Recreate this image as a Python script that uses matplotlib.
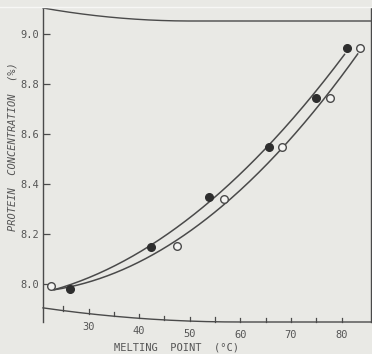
import numpy as np
import matplotlib.pyplot as plt

# filled circles
filled_melt = [26.4, 42.3, 53.9, 65.6, 74.9, 81.0]
filled_conc = [7.98, 8.148, 8.348, 8.548, 8.744, 8.944]
# open circles
open_melt = [22.5, 47.4, 56.7, 68.3, 77.8, 83.6]
open_conc = [7.99, 8.152, 8.34, 8.548, 8.744, 8.944]

# both drawn curves leave from the same point at the low end
curve_start = (23.2, 7.975)
filled_curve_end = 80.6
open_curve_end = 83.2

x_ticks = [30, 40, 50, 60, 70, 80]
x_minor = [25, 35, 45, 55, 65, 75]
y_ticks = [8.0, 8.2, 8.4, 8.6, 8.8, 9.0]

BG = "#e9e9e5"
INK = "#4a4a4a"
TXT = "#555555"
FONT = "DejaVu Sans Mono"


def anchored_fit(xs, ys, x_end):
    # quadratic through the shared start point, least squares for the rest
    x0, y0 = curve_start
    dx = np.asarray(xs) - x0
    dy = np.asarray(ys) - y0
    a = np.column_stack([dx, dx ** 2])
    coef, *_ = np.linalg.lstsq(a, dy, rcond=None)
    grid = np.linspace(x0, x_end, 200)
    g = grid - x0
    return grid, y0 + coef[0] * g + coef[1] * g ** 2


fig = plt.figure(figsize=(3.72, 3.54), dpi=100, facecolor=BG)
ax = fig.add_axes([43 / 372, 1 - 322 / 354, 328 / 372, 314 / 354])
ax.set_facecolor(BG)
ax.set_xlim(21.0, 85.83)
ax.set_ylim(7.846, 9.102)

for side in ["top", "bottom"]:
    ax.spines[side].set_visible(False)
for side in ["left", "right"]:
    ax.spines[side].set_color(INK)
    ax.spines[side].set_linewidth(1.0)


# warped scan: top and bottom edges bend near the left
def bottom_edge(u):
    u = np.asarray(u, dtype=float)
    return np.where(u < 0.6, 0.045 * (1 - u / 0.6) ** 2, 0.0)


def top_edge(u):
    u = np.asarray(u, dtype=float)
    return 1 - np.where(u < 0.45, 0.0414 * (1 - (1 - u / 0.45) ** 2), 0.0414)


uu = np.linspace(0, 1, 200)
ax.plot(uu, bottom_edge(uu), color=INK, lw=1.0, transform=ax.transAxes, clip_on=False)
ax.plot(uu, top_edge(uu), color=INK, lw=1.0, transform=ax.transAxes, clip_on=False)

# x ticks drawn on the bent bottom edge
x0, x1 = ax.get_xlim()
for v in x_ticks + x_minor:
    u = (v - x0) / (x1 - x0)
    yb = float(bottom_edge(u))
    ax.plot([u, u], [yb, yb + 0.014], color=INK, lw=0.9, transform=ax.transAxes, clip_on=False)
for v in x_ticks:
    u = (v - x0) / (x1 - x0)
    yb = float(bottom_edge(u))
    ax.text(u, yb - 0.025, str(v), transform=ax.transAxes, ha="center", va="top",
            fontsize=7.5, color=TXT, family=FONT)
ax.set_xticks([])

ax.set_yticks(y_ticks)
ax.set_yticklabels([f"{v:.1f}" for v in y_ticks], family=FONT)
ax.tick_params(axis="y", direction="in", length=5, width=0.9, color=INK, labelcolor=TXT,
               labelsize=7.5, pad=3)

xf, yf = anchored_fit(filled_melt, filled_conc, filled_curve_end)
xo, yo = anchored_fit(open_melt[1:], open_conc[1:], open_curve_end)
ax.plot(xf, yf, color=INK, lw=1.1)
ax.plot(xo, yo, color=INK, lw=1.1)

ax.plot(filled_melt, filled_conc, "o", ms=5.5, color="#2e2e2e", mec="#2e2e2e", zorder=5)
ax.plot(open_melt, open_conc, "o", ms=5.5, mfc="#f4f4f2", mec=INK, mew=1.0, zorder=5)

fig.text(176 / 372, 1 - 347 / 354, "MELTING  POINT  (°C)", ha="center", va="center",
         fontsize=7.5, color=TXT, family=FONT)
fig.text(13 / 372, 1 - 147 / 354, "PROTEIN  CONCENTRATION  (%)", ha="center", va="center",
         rotation=90, fontsize=7.5, color=TXT, style="italic", family=FONT)

# faint light line along the top of the scan
fig.add_artist(plt.Line2D([0, 1], [1 - 7 / 354, 1 - 7 / 354], color="#f7f7f5", lw=1.0))

fig.savefig("out.png", dpi=100, facecolor=BG)
